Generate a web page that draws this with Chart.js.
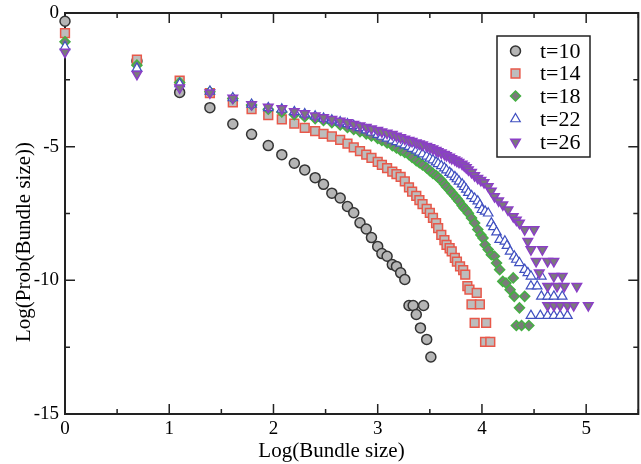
<!DOCTYPE html>
<html>
<head>
<meta charset="utf-8">
<title>Bundle size distribution</title>
<script src="https://cdn.jsdelivr.net/npm/chart.js@4.4.0/dist/chart.umd.min.js"></script>
<style>
    html, body { margin: 0; padding: 0; background: #ffffff; overflow: hidden; }
    #wrap { width: 641px; height: 464px; overflow: hidden; }
</style>
</head>
<body>
<div id="wrap"><canvas id="bundleChart" width="646" height="464"></canvas></div>
<script>
// Series labels and tick settings
const seriesLabels = ["t=10", "t=14", "t=18", "t=22", "t=26"];
const xTickValues = [0, 1, 2, 3, 4, 5];
const yTickValues = [-15, -10, -5, 0];

// t=10 (circles)
const t10X = [0, 0.69, 1.10, 1.39, 1.61, 1.79, 1.95, 2.08, 2.20, 2.30, 2.40, 2.48, 2.56, 2.64, 2.71, 2.77, 2.83, 2.89, 2.94, 3.00,
    3.04, 3.09, 3.14, 3.18, 3.22, 3.26, 3.30, 3.34, 3.37, 3.41, 3.44, 3.47, 3.51];
const t10Y = [-0.31, -1.80, -2.97, -3.54, -4.15, -4.54, -4.96, -5.30, -5.62, -5.87, -6.16, -6.41, -6.74, -6.92, -7.24, -7.47, -7.85, -8.08, -8.40, -8.73,
    -9.00, -9.10, -9.41, -9.48, -9.72, -9.97, -10.94, -10.94, -11.28, -11.78, -10.94, -12.21, -12.87];

// t=14 (squares)
const t14X = [0, 0.69, 1.10, 1.39, 1.61, 1.79, 1.95, 2.08, 2.20, 2.30, 2.40, 2.48, 2.56, 2.64, 2.71, 2.77, 2.83, 2.89, 2.94, 3.00,
    3.04, 3.09, 3.14, 3.18, 3.22, 3.26, 3.30, 3.33, 3.37, 3.40, 3.43, 3.47, 3.50, 3.53, 3.56, 3.58, 3.61, 3.64, 3.66, 3.69,
    3.71, 3.74, 3.76, 3.79, 3.82, 3.84, 3.86, 3.88, 3.90, 3.93, 3.95, 3.98, 4.04, 4.03, 4.08];
const t14Y = [-0.75, -1.74, -2.53, -3.00, -3.34, -3.60, -3.82, -3.98, -4.14, -4.30, -4.42, -4.52, -4.62, -4.75, -4.89, -5.03, -5.17, -5.30, -5.42, -5.57,
    -5.68, -5.80, -5.93, -6.03, -6.13, -6.30, -6.52, -6.68, -6.84, -7.00, -7.15, -7.33, -7.48, -7.66, -7.86, -8.05, -8.30, -8.50, -8.67, -8.80,
    -8.92, -9.16, -9.30, -9.48, -9.62, -9.79, -10.22, -10.35, -10.90, -11.59, -10.47, -10.90, -11.59, -12.30, -12.30];

// t=18 (diamonds)
const t18X = [0, 0.69, 1.10, 1.39, 1.61, 1.79, 1.95, 2.08, 2.20, 2.30, 2.40, 2.48, 2.56, 2.64, 2.71, 2.77, 2.83, 2.89, 2.94, 3.00,
    3.04, 3.09, 3.14, 3.18, 3.22, 3.26, 3.30, 3.33, 3.37, 3.40, 3.43, 3.47, 3.50, 3.53, 3.56, 3.58, 3.61, 3.64, 3.66, 3.69,
    3.71, 3.74, 3.76, 3.78, 3.81, 3.83, 3.85, 3.87, 3.90, 3.93, 3.96, 3.99, 4.01, 4.03, 4.06, 4.09, 4.12, 4.14, 4.17, 4.20,
    4.23, 4.27, 4.30, 4.31, 4.41, 4.36, 4.33, 4.38, 4.45];
const t18Y = [-1.08, -1.95, -2.60, -2.95, -3.20, -3.44, -3.60, -3.70, -3.80, -3.88, -3.95, -4.02, -4.10, -4.19, -4.28, -4.36, -4.44, -4.52, -4.60, -4.69,
    -4.77, -4.86, -4.96, -5.05, -5.14, -5.22, -5.30, -5.40, -5.52, -5.60, -5.68, -5.80, -5.90, -6.00, -6.08, -6.15, -6.26, -6.40, -6.50, -6.62,
    -6.72, -6.85, -6.95, -7.04, -7.20, -7.30, -7.38, -7.49, -7.67, -7.86, -8.10, -8.30, -8.42, -8.67, -8.85, -9.04, -9.10, -9.35, -9.60, -10.04,
    -10.10, -10.35, -9.91, -10.60, -10.60, -11.03, -11.69, -11.69, -11.69];

// t=22 (up triangles)
const t22X = [0, 0.69, 1.10, 1.39, 1.61, 1.79, 1.95, 2.08, 2.20, 2.30, 2.40, 2.48, 2.56, 2.64, 2.71, 2.77, 2.83, 2.89, 2.94, 3.00,
    3.04, 3.09, 3.14, 3.18, 3.22, 3.26, 3.30, 3.33, 3.37, 3.40, 3.43, 3.47, 3.50, 3.53, 3.56, 3.58, 3.61, 3.64, 3.66, 3.69,
    3.71, 3.74, 3.76, 3.78, 3.81, 3.83, 3.85, 3.87, 3.90, 3.93, 3.96, 3.98, 4.00, 4.03, 4.06, 4.09, 4.11, 4.14, 4.17, 4.22,
    4.24, 4.27, 4.31, 4.33, 4.36, 4.41, 4.44, 4.47, 4.57, 4.47, 4.53, 4.57, 4.63, 4.69, 4.77, 4.47, 4.56, 4.63, 4.69, 4.75,
    4.82];
const t22Y = [-1.27, -2.07, -2.65, -2.93, -3.18, -3.42, -3.55, -3.60, -3.70, -3.78, -3.86, -3.94, -4.01, -4.08, -4.15, -4.22, -4.30, -4.38, -4.46, -4.55,
    -4.62, -4.69, -4.76, -4.82, -4.88, -4.94, -5.00, -5.07, -5.14, -5.21, -5.28, -5.36, -5.44, -5.50, -5.58, -5.64, -5.72, -5.80, -5.88, -5.97,
    -6.04, -6.13, -6.21, -6.30, -6.40, -6.50, -6.60, -6.72, -6.84, -6.94, -7.04, -7.18, -7.36, -7.42, -7.49, -7.86, -8.00, -8.20, -8.48, -8.54,
    -8.70, -8.92, -9.10, -9.22, -9.35, -9.60, -9.72, -9.85, -9.85, -10.22, -10.22, -10.60, -10.60, -10.60, -10.60, -11.32, -11.32, -11.32, -11.32, -11.32,
    -11.32];

// t=26 (down triangles)
const t26X = [0, 0.69, 1.10, 1.39, 1.61, 1.79, 1.95, 2.08, 2.20, 2.30, 2.40, 2.48, 2.56, 2.64, 2.71, 2.77, 2.83, 2.89, 2.94, 3.00,
    3.04, 3.09, 3.14, 3.18, 3.22, 3.26, 3.30, 3.33, 3.37, 3.40, 3.43, 3.47, 3.50, 3.53, 3.56, 3.58, 3.61, 3.64, 3.66, 3.69,
    3.71, 3.74, 3.76, 3.78, 3.81, 3.83, 3.85, 3.87, 3.90, 3.93, 3.96, 3.99, 4.02, 4.06, 4.09, 4.12, 4.16, 4.20, 4.25, 4.30,
    4.33, 4.36, 4.41, 4.50, 4.44, 4.47, 4.58, 4.52, 4.63, 4.69, 4.55, 4.69, 4.77, 4.63, 4.72, 4.79, 4.91, 4.63, 4.69, 4.75,
    4.82, 4.88, 5.02];
const t26Y = [-1.46, -2.29, -2.80, -2.98, -3.18, -3.42, -3.52, -3.57, -3.68, -3.76, -3.84, -3.91, -3.97, -4.04, -4.10, -4.16, -4.22, -4.27, -4.33, -4.39,
    -4.44, -4.49, -4.54, -4.60, -4.66, -4.71, -4.76, -4.80, -4.85, -4.89, -4.93, -4.98, -5.03, -5.08, -5.13, -5.18, -5.23, -5.28, -5.33, -5.39,
    -5.44, -5.49, -5.54, -5.58, -5.65, -5.71, -5.78, -5.86, -5.96, -6.08, -6.18, -6.26, -6.34, -6.49, -6.66, -6.86, -7.02, -7.17, -7.36, -7.61,
    -7.74, -7.86, -8.10, -8.10, -8.54, -8.85, -8.85, -9.29, -9.29, -9.29, -9.72, -9.85, -9.85, -10.22, -10.22, -10.22, -10.22, -10.94, -10.94, -10.94,
    -10.94, -10.94, -10.94];

// Marker styles for each series
const markerStyles = [
    { pointStyle: "circle", rotation: 0, radius: 5, fill: "#b5b5b5", stroke: "#333333", width: 1.5 },
    { pointStyle: "rect", rotation: 0, radius: 6.2, fill: "#bdbdbd", stroke: "#e8584a", width: 1.5 },
    { pointStyle: "rectRot", rotation: 0, radius: 5, fill: "#7a7a7a", stroke: "#45b043", width: 1.5 },
    { pointStyle: "triangle", rotation: 0, radius: 5.5, fill: "#ffffff", stroke: "#3f4fc0", width: 1.2 },
    { pointStyle: "triangle", rotation: 180, radius: 5.5, fill: "#7a7a7a", stroke: "#8b3fc6", width: 1.5 }
];

const serif = "'Liberation Serif', 'DejaVu Serif', serif";

function toPoints(xs, ys) {
    return xs.map((x, i) => ({ x: x, y: ys[i] }));
}

// Draw a single marker (used by the legend)
function drawMarker(ctx, style, x, y) {
    const r = style.radius;
    ctx.save();
    ctx.fillStyle = style.fill;
    ctx.strokeStyle = style.stroke;
    ctx.lineWidth = style.width;
    ctx.beginPath();
    if (style.pointStyle === "circle") {
        ctx.arc(x, y, r, 0, Math.PI * 2);
    } else if (style.pointStyle === "rect") {
        const s = Math.SQRT1_2 * r;
        ctx.rect(x - s, y - s, 2 * s, 2 * s);
    } else if (style.pointStyle === "rectRot") {
        ctx.moveTo(x - r, y);
        ctx.lineTo(x, y - r);
        ctx.lineTo(x + r, y);
        ctx.lineTo(x, y + r);
        ctx.closePath();
    } else {
        let rad = style.rotation * Math.PI / 180;
        ctx.moveTo(x + Math.sin(rad) * r, y - Math.cos(rad) * r);
        for (let k = 0; k < 2; k++) {
            rad += Math.PI * 2 / 3;
            ctx.lineTo(x + Math.sin(rad) * r, y - Math.cos(rad) * r);
        }
        ctx.closePath();
    }
    ctx.fill();
    ctx.stroke();
    ctx.restore();
}

// Frame, inward ticks, axis titles and legend
const framePlugin = {
    id: "frameAndLegend",
    beforeDatasetsDraw(chart) {
        const ctx = chart.ctx;
        const area = chart.chartArea;
        const xs = chart.scales.x;
        const ys = chart.scales.y;
        ctx.save();
        ctx.strokeStyle = "#222222";
        ctx.lineWidth = 1.5;
        ctx.beginPath();
        for (let v = 0; v <= 5.5; v += 0.5) {
            const px = xs.getPixelForValue(v);
            const len = Number.isInteger(v) ? 10 : 5;
            ctx.moveTo(px, area.bottom);
            ctx.lineTo(px, area.bottom - len);
            ctx.moveTo(px, area.top);
            ctx.lineTo(px, area.top + len);
        }
        for (let v = -15; v <= 0; v += 2.5) {
            const py = ys.getPixelForValue(v);
            const len = v % 5 === 0 ? 10 : 5;
            ctx.moveTo(area.left, py);
            ctx.lineTo(area.left + len, py);
            ctx.moveTo(area.right, py);
            ctx.lineTo(area.right - len, py);
        }
        ctx.stroke();
        ctx.lineWidth = 2;
        ctx.strokeRect(area.left, area.top, area.right - area.left, area.bottom - area.top);
        ctx.restore();
    },
    afterDraw(chart) {
        const ctx = chart.ctx;
        ctx.save();
        ctx.fillStyle = "#000000";
        ctx.font = "21px " + serif;
        ctx.textAlign = "center";
        ctx.textBaseline = "alphabetic";
        ctx.fillText("Log(Bundle size)", 331.5, 457);
        ctx.translate(30, 242);
        ctx.rotate(-Math.PI / 2);
        ctx.fillText("Log(Prob(Bundle size))", 0, 0);
        ctx.restore();

        // Legend box
        ctx.save();
        ctx.strokeStyle = "#222222";
        ctx.lineWidth = 1.5;
        ctx.strokeRect(497, 36, 93, 121);
        ctx.font = "22px " + serif;
        ctx.fillStyle = "#000000";
        ctx.textAlign = "left";
        ctx.textBaseline = "middle";
        const rows = [51, 73.5, 96, 119, 142];
        seriesLabels.forEach((label, i) => {
            drawMarker(ctx, markerStyles[i], 515.5, rows[i]);
            ctx.fillText(label, 540, rows[i] + 1);
        });
        ctx.restore();
    }
};

const seriesX = [t10X, t14X, t18X, t22X, t26X];
const seriesY = [t10Y, t14Y, t18Y, t22Y, t26Y];

// Later series are drawn on top
const datasets = seriesLabels.map((label, i) => ({
    label: label,
    data: toPoints(seriesX[i], seriesY[i]),
    showLine: false,
    clip: false,
    order: seriesLabels.length - i,
    pointStyle: markerStyles[i].pointStyle,
    rotation: markerStyles[i].rotation,
    pointRadius: markerStyles[i].radius,
    pointBackgroundColor: markerStyles[i].fill,
    pointBorderColor: markerStyles[i].stroke,
    pointBorderWidth: markerStyles[i].width
}));

const ctx = document.getElementById("bundleChart").getContext("2d");
const bundleChart = new Chart(ctx, {
    type: "scatter",
    data: { datasets: datasets },
    options: {
        responsive: false,
        animation: false,
        devicePixelRatio: 1,
        layout: { padding: { top: 13, right: 1, left: 0, bottom: 0 } },
        plugins: {
            legend: { display: false },
            tooltip: { enabled: false }
        },
        scales: {
            x: {
                type: "linear",
                min: 0,
                max: 5.5,
                afterFit: (scale) => {
                    scale.height = 50;
                    scale.paddingLeft = 0;
                    scale.paddingRight = 0;
                },
                afterBuildTicks: (scale) => { scale.ticks = xTickValues.map(v => ({ value: v })); },
                grid: { display: false, drawTicks: false },
                border: { display: false },
                ticks: {
                    includeBounds: false,
                    autoSkip: false,
                    maxRotation: 0,
                    padding: 4,
                    color: "#000000",
                    font: { family: serif, size: 19 },
                    callback: (v) => String(v)
                }
            },
            y: {
                type: "linear",
                min: -15,
                max: 0,
                afterFit: (scale) => {
                    scale.width = 65;
                    scale.paddingTop = 0;
                    scale.paddingBottom = 0;
                },
                afterBuildTicks: (scale) => { scale.ticks = yTickValues.map(v => ({ value: v })); },
                grid: { display: false, drawTicks: false },
                border: { display: false },
                ticks: {
                    includeBounds: false,
                    padding: 6,
                    color: "#000000",
                    font: { family: serif, size: 19 },
                    callback: (v) => String(v)
                }
            }
        }
    },
    plugins: [framePlugin]
});
</script>
</body>
</html>
